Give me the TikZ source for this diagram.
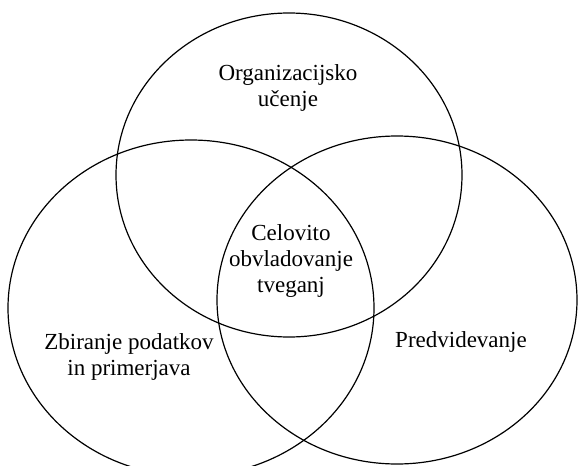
\documentclass[tikz,border=0pt]{standalone}
\usepackage{fontspec}
\setmainfont{Liberation Serif}
\tikzset{>=stealth}
\tikzset{
  set/.style={line width=0.6pt},
  label/.style={align=center, font=\fontsize{11.5pt}{13pt}\selectfont, inner sep=0pt}
}

\begin{document}
\begin{tikzpicture}[x=0.5pt, y=-0.5pt]
\useasboundingbox (0,0) rectangle (579,466);
\clip (0,0) rectangle (579,466);
\draw[set] (289,175) ellipse [x radius=173, y radius=162];
\draw[set] (191,308) ellipse [x radius=183, y radius=168];
\draw[set] (397,300) ellipse [x radius=180, y radius=164];
\node[label] (ucenje) at (288,88) {Organizacijsko\\u\v{c}enje};
\node[label] (celovito) at (291,261) {Celovito\\obvladovanje\\tveganj};
\node[label] (zbiranje) at (129,357) {Zbiranje podatkov\\in primerjava};
\node[label] (predvid) at (461,342) {Predvidevanje};
\end{tikzpicture}
\end{document}
